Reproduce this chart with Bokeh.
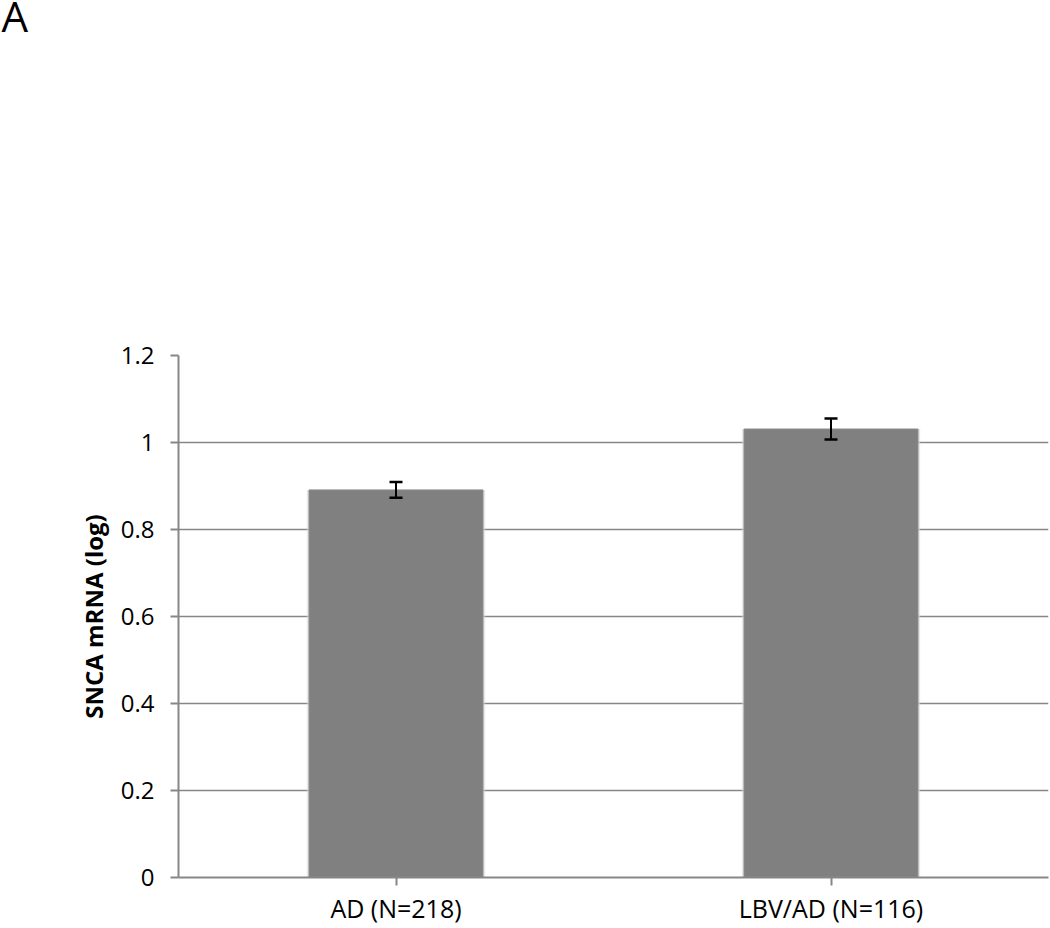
from bokeh.plotting import figure
from bokeh.models import ColumnDataSource, Whisker, TeeHead, FixedTicker, Range1d, Title
from bokeh.embed import file_html
from bokeh.resources import INLINE

categories = ["AD (N=218)", "LBV/AD (N=116)"]
means = [0.891, 1.031]
errors = [0.018, 0.024]
y_ticks = [0, 0.2, 0.4, 0.6, 0.8, 1.0, 1.2]
y_tick_labels = ["0", "0.2", "0.4", "0.6", "0.8", "1", "1.2"]
panel_label = "A"
y_title = "SNCA mRNA (log)"

FONT = "Open Sans"
GRID = "#878787"

W, H = 1050, 928
LEFT, TOP, BOTTOM, RIGHT = 178, 355, 877, 1048

src = ColumnDataSource(dict(
    cat=categories,
    mean=means,
    lower=[m - e for m, e in zip(means, errors)],
    upper=[m + e for m, e in zip(means, errors)],
))

p = figure(x_range=categories, y_range=Range1d(0, 1.2),
           width=W, height=H, output_backend="svg", toolbar_location=None,
           min_border_left=LEFT, min_border_right=W - RIGHT,
           min_border_top=TOP, min_border_bottom=H - BOTTOM)
p.x_range.range_padding = 0
p.outline_line_color = None
p.background_fill_color = "white"
p.border_fill_color = "white"

# soft shadow behind bars
p.vbar(x="cat", top="mean", width=0.41, source=src, fill_color="#d8d8d8",
       fill_alpha=0.6, line_color=None)
p.vbar(x="cat", top="mean", width=0.4, source=src, fill_color="#808080",
       line_color="#8c8c8c", line_width=1)

w = Whisker(base="cat", lower="lower", upper="upper", source=src,
            line_color="black", line_width=2, level="overlay",
            upper_head=TeeHead(size=13, line_color="black", line_width=2.5),
            lower_head=TeeHead(size=13, line_color="black", line_width=2.5))
p.add_layout(w)

p.xgrid.grid_line_color = None
p.ygrid.grid_line_color = GRID
p.ygrid.grid_line_width = 1.5
p.yaxis.ticker = FixedTicker(ticks=y_ticks)
p.yaxis.major_label_overrides = {t: l for t, l in zip(y_ticks, y_tick_labels)}

for ax in (p.xaxis[0], p.yaxis[0]):
    ax.axis_line_color = GRID
    ax.axis_line_width = 2
    ax.major_tick_line_color = GRID
    ax.major_tick_line_width = 2
    ax.major_tick_out = 8
    ax.major_tick_in = 0
    ax.minor_tick_line_color = None
    ax.major_label_text_font = FONT
    ax.major_label_text_color = "black"

p.yaxis.major_label_text_font_size = "24px"
p.xaxis.major_label_text_font_size = "25px"
p.yaxis.major_label_standoff = 16
p.xaxis.major_label_standoff = 5
p.yaxis.axis_label = y_title
p.yaxis.axis_label_text_font = FONT
p.yaxis.axis_label_text_font_size = "24px"
p.yaxis.axis_label_text_font_style = "bold"
p.yaxis.axis_label_text_color = "black"
p.yaxis.axis_label_standoff = 8

# spacer (nearest the frame) so that the panel letter sits at the very top
p.add_layout(Title(text=" ", text_font_size="1px", standoff=324), "above")
p.add_layout(Title(text=panel_label, align="left", offset=-LEFT + 1,
                   vertical_align="top", text_font=FONT, text_font_size="42px",
                   text_font_style="normal", text_color="black", standoff=-34), "above")

open("out.html", "w").write(file_html(p, INLINE))
